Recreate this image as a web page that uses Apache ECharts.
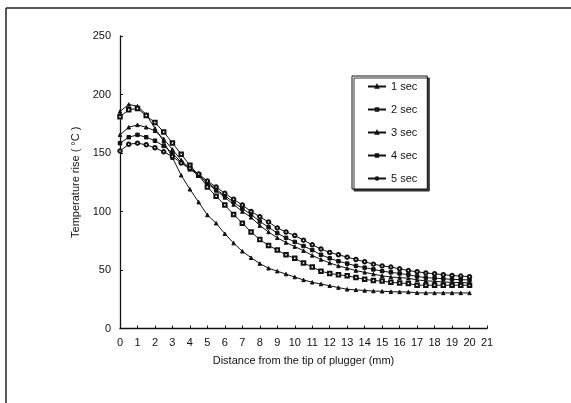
<!DOCTYPE html>
<html>
<head>
<meta charset="utf-8">
<script src="https://cdn.jsdelivr.net/npm/echarts@6/dist/echarts.min.js"></script>
<style>
html,body{margin:0;padding:0;background:#fff;}
#c{width:571px;height:403px;}
</style>
</head>
<body>
<div id="c"></div>
<script>
var distances = [0,0.5,1,1.5,2,2.5,3,3.5,4,4.5,5,5.5,6,6.5,7,7.5,8,8.5,9,9.5,10,10.5,11,11.5,12,12.5,13,13.5,14,14.5,15,15.5,16,16.5,17,17.5,18,18.5,19,19.5,20];
var xTicks = [0,1,2,3,4,5,6,7,8,9,10,11,12,13,14,15,16,17,18,19,20,21];
var seriesNames = ['1 sec','2 sec','3 sec','4 sec','5 sec'];
var sec1 = [185.5,191.5,190,183,171,160,146,131,119,108,97,90,81,73,66,60.5,55.5,51.5,49,46.5,44,41.5,39.5,38,36.5,35,33.5,33,32.5,32,31.8,31.5,31.3,31.2,30.5,30.4,30.4,30.4,30.4,30.4,30.4];
var sec2 = [181,187,188,182,176,168,158.5,149,139.5,131,121,113,105.5,97.5,90,82.5,76,71,67,63,60,56,52.5,49,47,46,45,43.5,42,41,40.5,39.5,38.8,38.5,37,37,37,37,37,37,37];
var sec3 = [165.5,172,174,172,169,162,153,144,137,131,124,118,112,106,100,95,88,82.5,77.5,73.5,70,66.5,62.5,59,56,53.5,51.5,49.5,48,46.5,45,44,43.5,43,41.5,40.8,40.3,39.8,39.5,39.2,39];
var sec4 = [158.4,163.5,165.5,163.5,160.5,156,150,142,136,131,125,119,113.5,108,102.5,97.5,91.5,86.5,81.5,77.5,74,70.5,67,63,60,57.5,55.5,53.5,52,50.5,49,48,47,46,44.5,43.5,43,42.5,42,41.8,41.5];
var sec5 = [151.8,157.5,158.4,157,154.5,151,147,141.5,137,132,126,121,115.5,110.5,105.5,100,95.5,91,86,82.5,79.5,75.5,71.5,68,65,63,61,59,57,55,53.5,52.5,51,49.5,48.5,47.5,46.8,46,45.3,44.8,44.3];
var allValues = [sec1, sec2, sec3, sec4, sec5];
var symbols = ['triangle','emptyRect','triangle','rect','emptyCircle'];

var FONT = "'Liberation Sans', Arial, sans-serif";
function pairs(v){ return distances.map(function(d,i){ return [d, v[i]]; }); }

var chart = echarts.init(document.getElementById('c'), null, {renderer:'canvas'});
chart.setOption({
  animation:false,
  backgroundColor:'#fff',
  textStyle:{fontFamily:FONT, color:'#111'},
  graphic:[
    {type:'line', shape:{x1:6,y1:8,x2:571,y2:8}, style:{stroke:'#222', lineWidth:1.5}},
    {type:'line', shape:{x1:6,y1:8,x2:6,y2:403}, style:{stroke:'#222', lineWidth:1.5}}
  ],
  grid:{left:120, right:84, top:36, bottom:74.5, containLabel:false},
  legend:{
    orient:'vertical', left:352, top:76,
    itemWidth:18, itemHeight:3, itemGap:12,
    padding:[5,10,5,15],
    borderColor:'#111', borderWidth:1, backgroundColor:'#fff',
    shadowColor:'#333', shadowOffsetX:2, shadowOffsetY:2, shadowBlur:0,
    textStyle:{fontFamily:FONT, fontSize:11, color:'#111'},
    data:seriesNames
  },
  xAxis:{
    type:'value', min:0, max:21, interval:1,
    name:'Distance from the tip of plugger (mm)', nameLocation:'middle', nameGap:27,
    nameTextStyle:{fontFamily:FONT, fontSize:11, color:'#111'},
    axisLine:{lineStyle:{color:'#111', width:1.3}},
    axisTick:{inside:true, length:3, lineStyle:{color:'#111'}},
    axisLabel:{margin:9, fontSize:11, color:'#111', fontFamily:FONT,
      formatter:function(v){ return xTicks.indexOf(v) >= 0 ? String(v) : ''; }},
    splitLine:{show:false}
  },
  yAxis:{
    type:'value', min:0, max:250, interval:50,
    name:'Temperature rise ( \u00b0C )', nameLocation:'middle', nameGap:37, nameRotate:90,
    nameTextStyle:{fontFamily:FONT, fontSize:11, color:'#111'},
    axisLine:{show:true, lineStyle:{color:'#111', width:1.3}},
    axisTick:{show:true, inside:true, length:3, lineStyle:{color:'#111'}},
    axisLabel:{margin:9, fontSize:11, color:'#111', fontFamily:FONT},
    splitLine:{show:false}
  },
  series: seriesNames.map(function(n,i){
    return {
      name:n, type:'line', data:pairs(allValues[i]),
      symbol:symbols[i], symbolSize:3.5, showSymbol:true,
      lineStyle:{color:'#111', width:1},
      itemStyle:{color:'#111', borderColor:'#111', borderWidth:1},
      z: 2 + i
    };
  })
});
</script>
</body>
</html>
